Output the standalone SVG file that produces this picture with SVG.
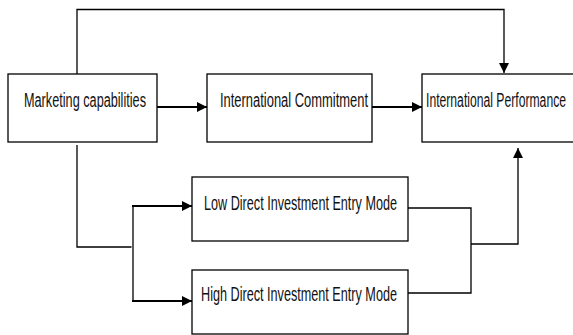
<svg xmlns="http://www.w3.org/2000/svg" width="573" height="335" viewBox="0 0 573 335">
  <style>
    .box { fill: #ffffff; stroke: #000000; stroke-width: 1.3; }
    .lbl { font-family: "Liberation Sans", Arial, sans-serif; font-size: 19.5px; fill: #111111; }
    .ln { fill: none; stroke: #000000; stroke-width: 1.3; }
    .thick { fill: none; stroke: #000000; stroke-width: 2.2; }
  </style>
  <defs>
    <marker id="ah" viewBox="0 0 10 10" refX="10" refY="5" markerWidth="10" markerHeight="10" markerUnits="userSpaceOnUse" orient="auto">
      <path d="M0,0 L10,5 L0,10 Z" fill="#000000"/>
    </marker>
  </defs>

  <rect width="573" height="335" fill="#ffffff"/>

  <g id="connectors">
    <!-- marketing to performance, over the top -->
    <polyline class="ln" points="77,74 77,9.5 504,9.5 504,73" marker-end="url(#ah)"/>
    <!-- main chain -->
    <line class="thick" x1="157" y1="107" x2="207" y2="107" marker-end="url(#ah)"/>
    <line class="thick" x1="372" y1="107" x2="422" y2="107" marker-end="url(#ah)"/>
    <!-- marketing to entry modes -->
    <polyline class="ln" points="77,145 77,247 131.5,247"/>
    <line class="ln" x1="133" y1="206" x2="133" y2="301"/>
    <polyline class="thick" points="132,206 192,206" marker-end="url(#ah)"/>
    <polyline class="thick" points="132,301 192,301" marker-end="url(#ah)"/>
    <!-- entry modes to performance -->
    <polyline class="ln" points="408,208 471,208 471,293 408,293"/>
    <polyline class="ln" points="471,244 518,244 518,148" marker-end="url(#ah)"/>
  </g>

  <g id="marketing">
    <rect class="box" x="8" y="74" width="149" height="68"/>
    <text class="lbl" x="24" y="107" textLength="122" lengthAdjust="spacingAndGlyphs">Marketing capabilities</text>
  </g>

  <g id="commitment">
    <rect class="box" x="207" y="74" width="165" height="68"/>
    <text class="lbl" x="220" y="107" textLength="148" lengthAdjust="spacingAndGlyphs">International Commitment</text>
  </g>

  <g id="performance">
    <rect class="box" x="422" y="74" width="160" height="68"/>
    <text class="lbl" x="426" y="107" textLength="140" lengthAdjust="spacingAndGlyphs">International Performance</text>
  </g>

  <g id="low-mode">
    <rect class="box" x="192" y="177" width="216" height="64"/>
    <text class="lbl" x="204" y="210" textLength="193" lengthAdjust="spacingAndGlyphs">Low Direct Investment Entry Mode</text>
  </g>

  <g id="high-mode">
    <rect class="box" x="192" y="270" width="216" height="64"/>
    <text class="lbl" x="201" y="301" textLength="196" lengthAdjust="spacingAndGlyphs">High Direct Investment Entry Mode</text>
  </g>
</svg>
